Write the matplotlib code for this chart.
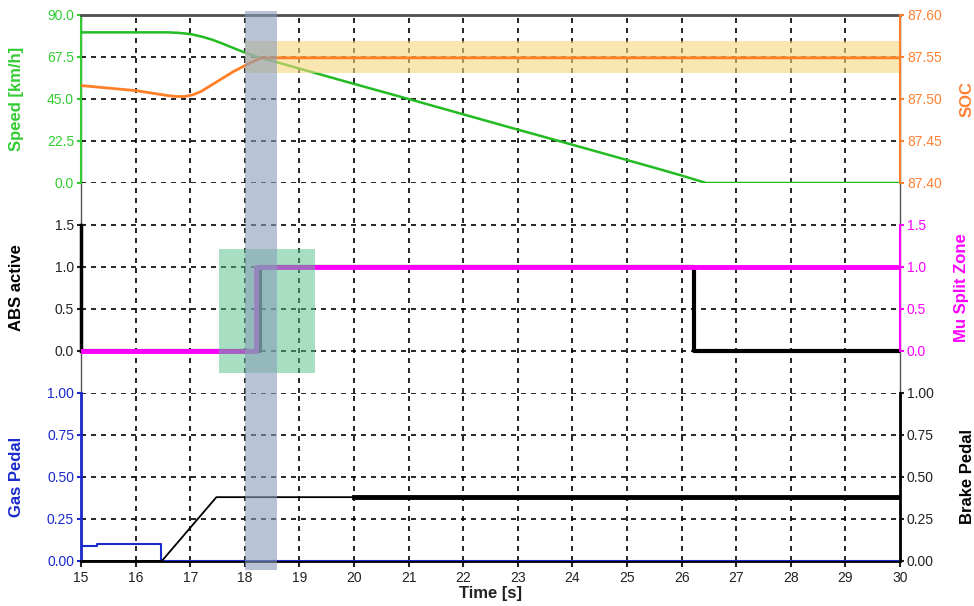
import matplotlib
matplotlib.use('Agg')
import matplotlib.pyplot as plt
import matplotlib.transforms as mtransforms
from matplotlib.patches import Rectangle
import numpy as np

plt.rcParams['font.family'] = ['Liberation Sans', 'DejaVu Sans']

# speed [km/h]
t_speed = [15, 16.6, 16.8, 17.0, 17.2, 17.4, 17.6, 17.8, 18.0, 18.3, 18.6, 19, 20, 21, 22, 23, 24, 25, 25.5, 26.0, 26.45, 30]
speed = [80.7, 80.7, 80.4, 79.8, 78.5, 76.8, 74.6, 72.2, 69.9, 66.9, 64.6, 61.3, 53.1, 45.0, 36.8, 28.6, 20.5, 12.3, 8.2, 4.0, 0.0, 0.0]

# state of charge
t_soc = [15, 16.0, 16.6, 16.75, 16.9, 17.05, 17.2, 17.5, 17.8, 18.1, 18.3, 30]
soc = [87.516, 87.510, 87.504, 87.503, 87.503, 87.505, 87.509, 87.521, 87.533, 87.543, 87.549, 87.549]

# ABS active / Mu split zone (steps)
t_abs = [15, 18.28, 26.22, 30]
abs_active = [0, 1, 0, 0]
t_mu = [15, 18.2, 30]
mu_split = [0, 1, 1]

# pedals
t_gas = [15, 15.3, 16.47, 30]
gas = [0.09, 0.1, 0.0, 0.0]
t_brake = [15, 16.48, 17.48, 20, 30]
brake = [0.0, 0.0, 0.38, 0.38, 0.38]

# highlights
cursor_t = (18.0, 18.59)
soc_band_t = (18.0, 30.0)
soc_band = (87.531, 87.569)
box_t = (17.53, 19.29)
box_y = (-0.262, 1.214)

c_green = '#33cc33'
c_green_line = '#22bb22'
c_orange = '#ff8033'
c_orange_line = '#ff7f27'
c_mag = '#ff00ff'
c_blue = '#1a2acc'
c_dark = '#222222'

W_PX, H_PX = 974, 606
fig = plt.figure(figsize=(W_PX / 100, H_PX / 100), dpi=100)

L = 81 / W_PX
W = 819 / W_PX
def ypos(top, bottom):
    return [L, 1 - bottom / H_PX, W, (bottom - top) / H_PX]

frame = fig.add_axes(ypos(15, 561), zorder=-1)
frame.set_xticks([])
frame.set_yticks([])
for s in frame.spines.values():
    s.set_color('#555555')
    s.set_linewidth(1)

ax1 = fig.add_axes(ypos(15, 183))
ax2 = fig.add_axes(ypos(183, 393))
ax3 = fig.add_axes(ypos(393, 561))
grid_kw = dict(color='black', linestyle=(0, (3, 3)), linewidth=1.2)

for ax in (ax1, ax2, ax3):
    ax.set_facecolor('none')
    ax.set_xlim(15, 30)
    ax.set_xticks(range(15, 31))
    ax.vlines(range(16, 30), 0, 1, transform=ax.get_xaxis_transform(), zorder=0.5, **grid_kw)
    ax.grid(axis='y', **grid_kw)
    ax.set_axisbelow(True)
    for s in ('top', 'bottom', 'right'):
        ax.spines[s].set_visible(False)
    ax.tick_params(axis='y', length=3, width=1.5, labelsize=10, pad=2)

for ax in (ax1, ax2):
    ax.tick_params(axis='x', bottom=False, labelbottom=False)

# ---- top panel ----
ax1.plot(t_speed, speed, color=c_green_line, linewidth=1.8, zorder=3)
ax1.set_ylim(0, 90)
ax1.set_yticks([0, 22.5, 45, 67.5, 90])
ax1.set_yticklabels(['0.0', '22.5', '45.0', '67.5', '90.0'])
ax1.spines['top'].set_visible(True)
ax1.spines['top'].set_color('#505050')
ax1.spines['top'].set_linewidth(2)
ax1.spines['left'].set_color(c_green)
ax1.spines['left'].set_linewidth(1.5)
ax1.spines['left'].set_bounds(0, 90)
ax1.tick_params(axis='y', colors=c_green)
ax1.set_ylabel('Speed [km/h]', color=c_green, fontsize=12, fontweight='bold')
ax1.yaxis.set_label_coords(-0.0696, 0.5)

ax1t = ax1.twinx()
ax1t.set_xlim(15, 30)
ax1t.fill_between(soc_band_t, soc_band[0], soc_band[1], color='#f5d67e', alpha=0.6, linewidth=0, zorder=1)
ax1t.plot(t_soc, soc, color=c_orange_line, linewidth=2, zorder=3)
ax1t.set_ylim(87.40, 87.60)
ax1t.set_yticks(np.arange(87.40, 87.601, 0.05))
ax1t.set_yticklabels(['87.40', '87.45', '87.50', '87.55', '87.60'])
for s in ('top', 'bottom', 'left'):
    ax1t.spines[s].set_visible(False)
ax1t.spines['right'].set_color(c_orange_line)
ax1t.spines['right'].set_linewidth(1.5)
ax1t.spines['right'].set_bounds(87.40, 87.60)
ax1t.tick_params(axis='y', colors=c_orange, length=3, width=1.5, labelsize=10, pad=2)
ax1t.set_ylabel('SOC', color=c_orange, fontsize=12, fontweight='bold')
ax1t.yaxis.set_label_coords(1.073, 0.5)

# ---- middle panel ----
ax2.step(t_abs, abs_active, where='post', color='black', linewidth=3, zorder=3)
ax2.set_ylim(-0.5, 2.0)
ax2.set_yticks([0, 0.5, 1.0, 1.5])
ax2.set_yticklabels(['0.0', '0.5', '1.0', '1.5'])
ax2.spines['left'].set_color('black')
ax2.spines['left'].set_linewidth(2.5)
ax2.spines['left'].set_bounds(0, 1.5)
ax2.tick_params(axis='y', colors=c_dark)
ax2.set_ylabel('ABS active', color='black', fontsize=12, fontweight='bold')
ax2.yaxis.set_label_coords(-0.0696, 0.5)

ax2t = ax2.twinx()
ax2t.set_xlim(15, 30)
ax2t.step(t_mu, mu_split, where='post', color=c_mag, linewidth=3.5, zorder=3)
ax2t.add_patch(Rectangle((box_t[0], box_y[0]), box_t[1] - box_t[0], box_y[1] - box_y[0],
                         facecolor='#53c187', alpha=0.5, edgecolor='none', zorder=5))
ax2t.set_ylim(-0.5, 2.0)
ax2t.set_yticks([0, 0.5, 1.0, 1.5])
ax2t.set_yticklabels(['0.0', '0.5', '1.0', '1.5'])
for s in ('top', 'bottom', 'left'):
    ax2t.spines[s].set_visible(False)
ax2t.spines['right'].set_color(c_mag)
ax2t.spines['right'].set_linewidth(1.5)
ax2t.spines['right'].set_bounds(0, 1.5)
ax2t.tick_params(axis='y', colors=c_mag, length=3, width=1.5, labelsize=10, pad=2)
ax2t.set_ylabel('Mu Split Zone', color=c_mag, fontsize=12, fontweight='bold')
ax2t.yaxis.set_label_coords(1.066, 0.5)

# ---- bottom panel ----
ax3.step(t_gas, gas, where='post', color=c_blue, linewidth=1.5, zorder=3)
ax3.set_ylim(0, 1)
ax3.set_yticks([0, 0.25, 0.5, 0.75, 1.0])
ax3.set_yticklabels(['0.00', '0.25', '0.50', '0.75', '1.00'])
ax3.spines['left'].set_color(c_blue)
ax3.spines['left'].set_linewidth(2)
ax3.spines['left'].set_bounds(0, 1)
ax3.spines['bottom'].set_visible(True)
ax3.spines['bottom'].set_color('black')
ax3.spines['bottom'].set_linewidth(2)
ax3.tick_params(axis='y', colors=c_blue)
ax3.tick_params(axis='x', colors=c_dark, length=4, width=1.5, labelsize=10, pad=3)
ax3.set_ylabel('Gas Pedal', color=c_blue, fontsize=12, fontweight='bold')
ax3.yaxis.set_label_coords(-0.0696, 0.5)
ax3.set_xlabel('Time [s]', color=c_dark, fontsize=12, fontweight='bold', labelpad=1)

ax3t = ax3.twinx()
ax3t.set_xlim(15, 30)
tb = np.array(t_brake)
bb = np.array(brake)
ax3t.plot(tb, bb, color='black', linewidth=1.3, zorder=3)
late = tb >= 20
ax3t.plot(tb[late], bb[late], color='black', linewidth=3.5, zorder=3)
ax3t.set_ylim(0, 1)
ax3t.set_yticks([0, 0.25, 0.5, 0.75, 1.0])
ax3t.set_yticklabels(['0.00', '0.25', '0.50', '0.75', '1.00'])
for s in ('top', 'bottom', 'left'):
    ax3t.spines[s].set_visible(False)
ax3t.spines['right'].set_color('black')
ax3t.spines['right'].set_linewidth(2)
ax3t.spines['right'].set_bounds(0, 1)
ax3t.tick_params(axis='y', colors=c_dark, length=3, width=1.5, labelsize=10, pad=2)
ax3t.set_ylabel('Brake Pedal', color='black', fontsize=12, fontweight='bold')
ax3t.yaxis.set_label_coords(1.073, 0.5)

# time cursor band across all panels
trans = mtransforms.blended_transform_factory(ax3.transData, fig.transFigure)
fig.add_artist(Rectangle((cursor_t[0], 1 - 570 / H_PX), cursor_t[1] - cursor_t[0], 559 / H_PX,
                         transform=trans, facecolor='#899ebb', alpha=0.6, edgecolor='none', zorder=5))

fig.savefig('out.png', dpi=100)
